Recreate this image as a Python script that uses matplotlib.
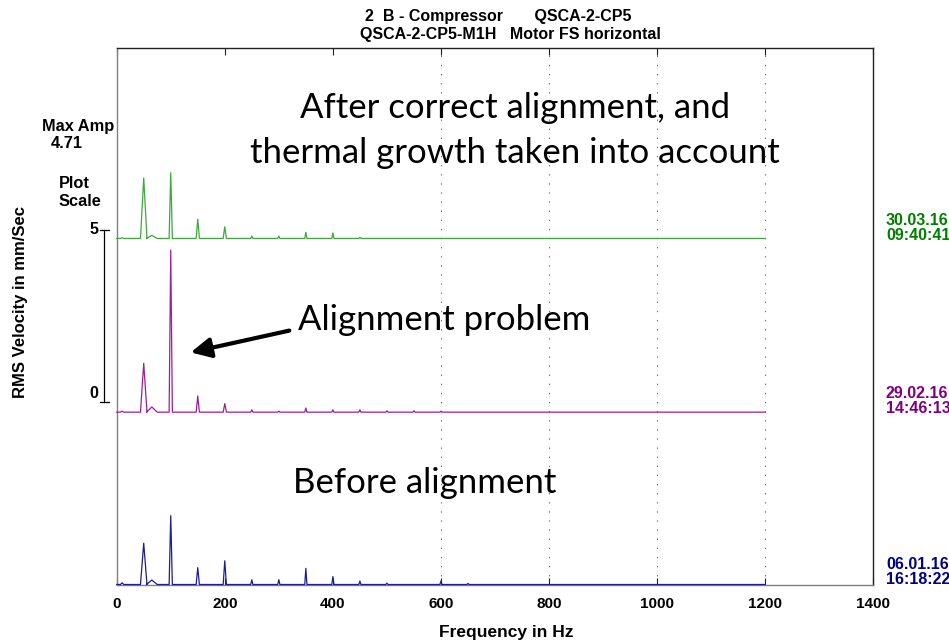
import numpy as np
import matplotlib
matplotlib.use("Agg")
from matplotlib import pyplot as plt

# spectrum peaks (Hz, mm/s RMS)
peak_freq = [10, 50, 65, 100, 150, 200, 250, 300, 350, 400, 450, 500, 550, 600, 650]
peak_halfwidth = [3, 6, 10, 3, 3, 3, 2, 2, 2, 2, 2, 2, 2, 2, 2]
blue_amp = [0.05, 1.20, 0.13, 2.00, 0.49, 0.69, 0.14, 0.14, 0.47, 0.23, 0.10, 0.04, 0.00, 0.10, 0.03]
purple_amp = [0.03, 1.42, 0.15, 4.71, 0.47, 0.25, 0.07, 0.03, 0.12, 0.07, 0.07, 0.04, 0.04, 0.03, 0.00]
green_amp = [0.02, 1.76, 0.09, 1.91, 0.56, 0.34, 0.07, 0.07, 0.18, 0.16, 0.03, 0.00, 0.00, 0.00, 0.00]

trace_offset = [0.0, 5.01, 10.06]
trace_amp = [blue_amp, purple_amp, green_amp]
trace_color = ['#1e1e8e', '#9a1f9a', '#3ea83e']
trace_date = ['06.01.16\n16:18:22', '29.02.16\n14:46:13', '30.03.16\n09:40:41']
date_color = ['#000080', '#800080', '#008000']
date_y = [572, 401, 228]
f_max = 1200

x_ticks = [0, 200, 400, 600, 800, 1000, 1200, 1400]
grid_freq = [600, 800, 1000, 1200]

W, H = 949, 643
fig = plt.figure(figsize=(W / 100, H / 100), dpi=100)
ax_left, ax_right, ax_top, ax_bot = 116.7, 873.3, 47.7, 584.5
ax = fig.add_axes([ax_left / W, 1 - ax_bot / H, (ax_right - ax_left) / W, (ax_bot - ax_top) / H])
px_per_unit = 34.4
ax.set_xlim(0, 1400)
ax.set_ylim(0, (ax_bot - ax_top) / px_per_unit)

for fq in grid_freq:
    ax.axvline(fq, color='#707070', lw=0.8, linestyle=(0, (1.2, 7)), zorder=1)


def build_trace(amps):
    xs, ys = [0.0], [0.0]
    for f, w, a in zip(peak_freq, peak_halfwidth, amps):
        xs += [f - w, f, f + w]
        ys += [0.0, a, 0.0]
    xs.append(f_max)
    ys.append(0.0)
    return np.array(xs), np.array(ys)


for amps, off, col in zip(trace_amp, trace_offset, trace_color):
    xs, ys = build_trace(amps)
    ax.plot(xs, ys + off, color=col, lw=0.9, zorder=3, clip_on=False)

ax.set_xticks(x_ticks)
ax.set_xticklabels([str(t) for t in x_ticks], fontfamily='Liberation Sans',
                   fontweight='bold', fontsize=11)
ax.tick_params(axis='x', direction='in', length=5, top=True, pad=9, color='#222222')
ax.set_yticks([])
for side, col in [('left', '#808080'), ('bottom', '#808080'), ('right', '#222222'), ('top', '#222222')]:
    ax.spines[side].set_color(col)
    ax.spines[side].set_linewidth(1.0)


def ftext(x, y, s, **kw):
    fig.text(x / W, 1 - y / H, s, **kw)


bold = dict(fontfamily='Liberation Sans', fontweight='bold')
ftext(498, 16, '2  B - Compressor       QSCA-2-CP5', ha='center', va='center', fontsize=11.5, **bold)
ftext(510, 35, 'QSCA-2-CP5-M1H   Motor FS horizontal', ha='center', va='center', fontsize=11.5, **bold)
ftext(506, 633, 'Frequency in Hz', ha='center', va='center', fontsize=12.5, **bold)
ftext(21, 302, 'RMS Velocity in mm/Sec', ha='center', va='center', rotation=90, fontsize=12, **bold)
ftext(42, 126, 'Max Amp', ha='left', va='center', fontsize=11.8, **bold)
ftext(51, 144, '4.71', ha='left', va='center', fontsize=11.8, **bold)
ftext(59, 183, 'Plot', ha='left', va='center', fontsize=11.8, **bold)
ftext(59, 201, 'Scale', ha='left', va='center', fontsize=11.8, **bold)
ftext(98, 230, '5', ha='right', va='center', fontsize=11.5, **bold)
ftext(98, 393, '0', ha='right', va='center', fontsize=11.5, **bold)

# plot scale bar
fig.add_artist(plt.Line2D([104.3 / W, 104.3 / W], [1 - 230 / H, 1 - 402.3 / H], color='black', lw=0.9))
fig.add_artist(plt.Line2D([100 / W, 109 / W], [1 - 230 / H, 1 - 230 / H], color='black', lw=0.9))
fig.add_artist(plt.Line2D([100 / W, 109 / W], [1 - 402.3 / H, 1 - 402.3 / H], color='black', lw=0.9))

for s, col, y in zip(trace_date, date_color, date_y):
    ftext(886, y, s, ha='left', va='center', fontsize=11.5, color=col, linespacing=0.95, **bold)

note = dict(fontfamily='Lato', fontsize=25, color='black', ha='center', va='center')
ftext(515, 108, 'After correct alignment, and', **note)
ftext(515, 153, 'thermal growth taken into account', **note)
ftext(444, 320, 'Alignment problem', **note)
ftext(425, 483, 'Before alignment', **note)

fig.add_artist(matplotlib.patches.FancyArrowPatch(
    (292 / W, 1 - 330 / H), (188 / W, 1 - 353 / H), transform=fig.transFigure,
    arrowstyle='-|>,head_length=1.0,head_width=0.5', mutation_scale=12,
    color='black', lw=3.0))

fig.savefig('out.png', dpi=100)
